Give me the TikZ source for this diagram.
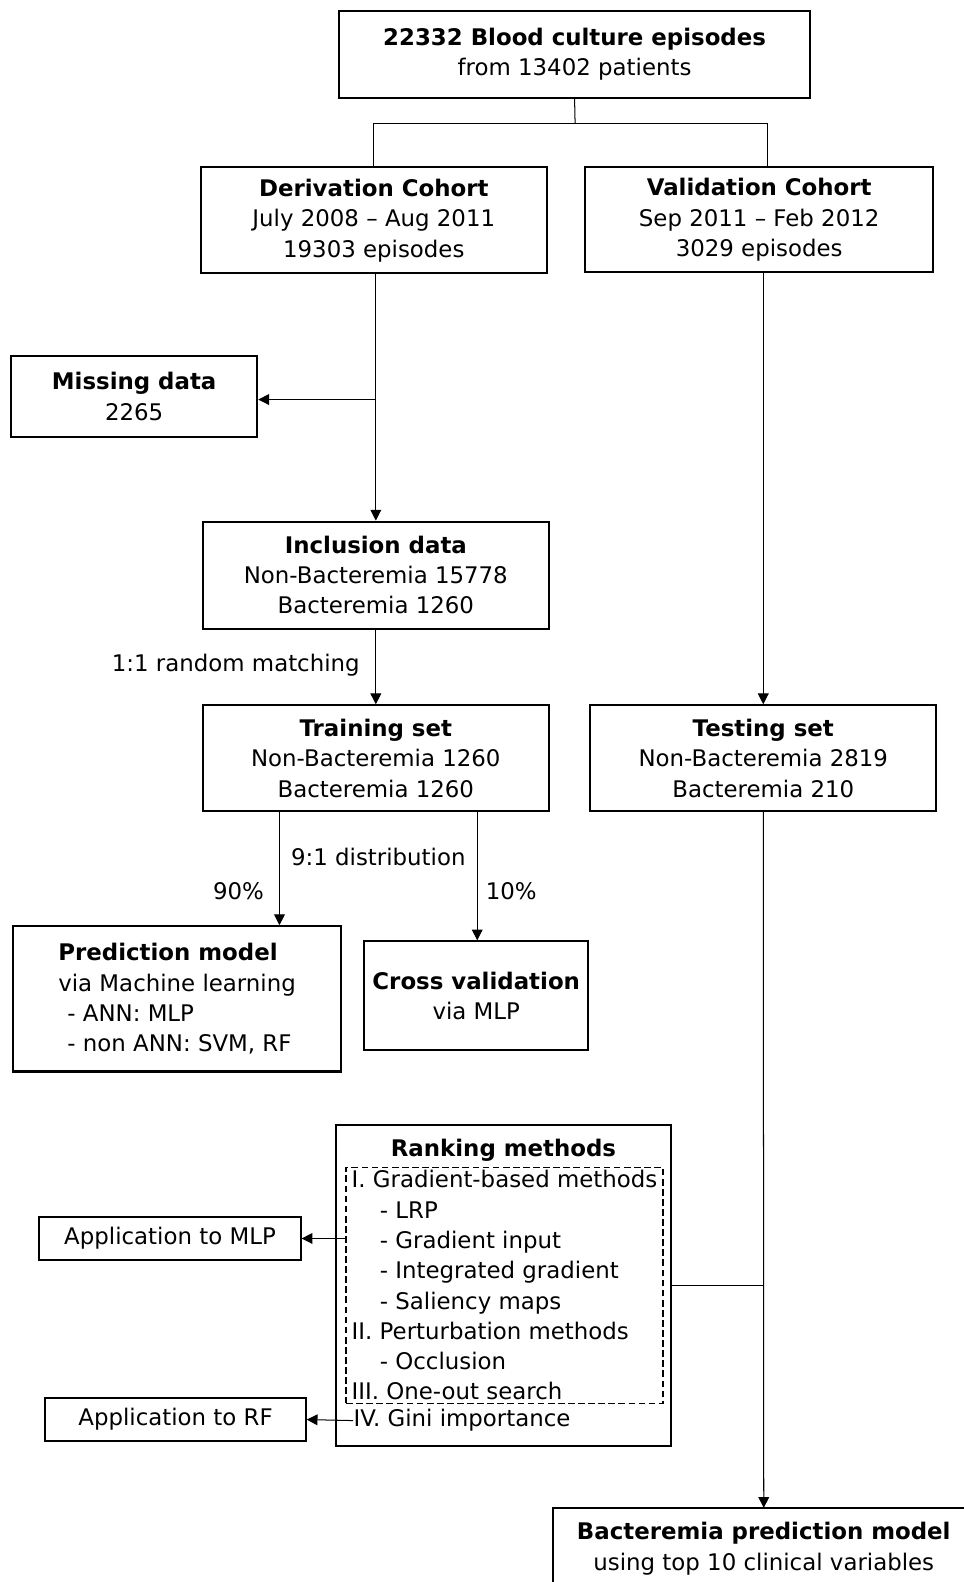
\documentclass[tikz,border=0pt]{standalone}
\usepackage{fontspec}
\setmainfont{DejaVu Sans}
\usetikzlibrary{arrows.meta,calc}

\tikzset{every picture/.style={line width=0.75pt}}
\tikzset{
  txt/.style={font=\fontsize{17}{22.5}\selectfont},
  box/.style={draw, line width=1.5pt, align=center, inner sep=0pt, txt},
  dashbox/.style={draw, dash pattern=on 5pt off 2.5pt, line width=1.2pt, align=left, inner sep=0pt, txt},
  lbl/.style={inner sep=0pt, txt},
  arr/.style={-{Triangle[length=8pt,width=8pt]}},
}

\begin{document}
\begin{tikzpicture}[x=0.75pt,y=0.75pt,yscale=-1,xscale=1]
\useasboundingbox (0,0) rectangle (955,1568);

% Boxes
\node [box, minimum width=350.25pt, minimum height=64.5pt] (top) at (569.5,54) {\textbf{22332 Blood culture episodes}\\from 13402 patients};
\node [box, minimum width=257.25pt, minimum height=78.75pt] (deriv) at (370.5,218.5) {\textbf{Derivation Cohort}\\July 2008 – Aug 2011\\19303 episodes};
\node [box, minimum width=258.75pt, minimum height=78pt] (valid) at (752.5,218) {\textbf{Validation Cohort}\\Sep 2011 – Feb 2012\\3029 episodes};
\node [box, minimum width=183pt, minimum height=60pt] (missing) at (133,393) {\textbf{Missing data}\\2265};
\node [box, minimum width=257.25pt, minimum height=79.5pt] (incl) at (372.5,570) {\textbf{Inclusion data}\\Non-Bacteremia 15778\\Bacteremia 1260};
\node [box, minimum width=257.25pt, minimum height=78.75pt] (train) at (372.5,751.5) {\textbf{Training set}\\Non-Bacteremia 1260\\Bacteremia 1260};
\node [box, minimum width=257.25pt, minimum height=78.75pt] (test) at (756.5,751.5) {\textbf{Testing set}\\Non-Bacteremia 2819\\Bacteremia 210};
\node [box, align=left, minimum width=243.75pt, minimum height=108pt] (pred) at (175.5,990) {\textbf{Prediction model}\\via Machine learning\\\hspace{6.75pt}- ANN: MLP\\\hspace{6.75pt}- non ANN: SVM, RF};
\node [box, minimum width=166.5pt, minimum height=81pt] (cross) at (472,987) {\textbf{Cross validation}\\via MLP};
\node [box, minimum width=249pt, minimum height=238.5pt] (rank) at (499,1274) {};
\node [lbl] (rankhead) at (499,1140) {\textbf{Ranking methods}};
\node [dashbox, minimum width=235.5pt, minimum height=175.5pt] (grad) at (500,1274) {I. Gradient-based methods\\\hspace{21pt}- LRP\\\hspace{21pt}- Gradient input\\\hspace{21pt}- Integrated gradient\\\hspace{21pt}- Saliency maps\\II. Perturbation methods\\\hspace{21pt}- Occlusion\\III. One-out search};
\node [lbl, anchor=west] (gini) at (350,1408) {IV. Gini importance};
\node [box, minimum width=194.25pt, minimum height=32.25pt] (appmlp) at (168.5,1227.5) {Application to MLP};
\node [box, minimum width=193.5pt, minimum height=31.5pt] (apprf) at (174,1407) {Application to RF};
\node [lbl, align=center, minimum width=312pt, minimum height=60pt] (final) at (757,1535) {\textbf{Bacteremia prediction model}\\using top 10 clinical variables};
% final box runs off the page on the right
\draw [line width=1.5pt] ($(final.north east)+(60,0)$) -- (final.north west) -- (final.south west) -- ($(final.south east)+(60,0)$);

% Split points
\coordinate (split) at (570,122);
\coordinate (split90) at (277,804);
\coordinate (split10) at (473,804);

%Straight Lines
\draw (top.south) -- (split);
\draw (deriv.north) |- (split) -| ($(valid.north)+(8.5,0)$);
\draw [arr] (deriv.south -| incl.north) -- (incl.north);
\draw [arr] ($(incl.north |- missing.east)+(0,3)$) -- ($(missing.east)+(0,3)$);
\draw [arr] (valid.south -| test.north) -- (test.north);
\draw [arr] (incl.south) -- (train.north);
\draw [arr] (split90) -- (split90 |- pred.north);
\draw [arr] (split10) -- (split10 |- cross.north);
\draw [arr] (test.south) -- (final.north);
\draw (rank.east) -- (rank.east -| test.south);
\draw [arr] (grad.west |- appmlp.east) -- (appmlp.east);
\draw [arr] (gini.west) -- (apprf.east);

% Text Node
\node [lbl, anchor=east] (match) at (357,659) {1:1 random matching};
\node [lbl] (dist) at (375,849) {9:1 distribution};
\node [lbl, anchor=east] (p90) at (262,883) {90\%};
\node [lbl, anchor=west] (p10) at (481,883) {10\%};

\end{tikzpicture}
\end{document}
